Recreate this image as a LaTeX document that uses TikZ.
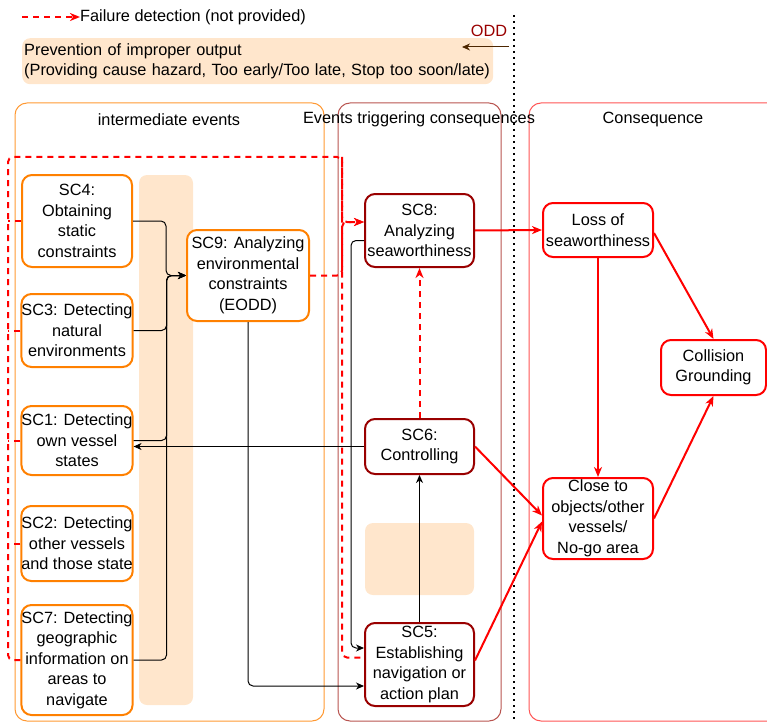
\documentclass[tikz,border=0pt]{standalone}
\usepackage{fontspec}
\setmainfont{Liberation Sans}
\usetikzlibrary{arrows.meta, calc}
\definecolor{scorange}{HTML}{FF8000}
\definecolor{scdark}{HTML}{990000}
\definecolor{peach}{HTML}{FFE6CC}
\definecolor{laneone}{HTML}{FF9933}
\definecolor{lanetwo}{HTML}{B85450}
\definecolor{lanethree}{HTML}{FF5555}
\definecolor{oddarrow}{HTML}{4D2600}
\tikzset{>={Stealth[length=8pt,width=7pt,inset=2.5pt]}}
\tikzset{
	lane/.style={rounded corners=12, line width=1},
	sc/.style={rounded corners=10, line width=2, fill=white, align=center, inner sep=0},
	orng/.style={sc, draw=scorange, minimum width=110},
	trig/.style={sc, draw=scdark, minimum width=109},
	cons/.style={sc, draw=red, minimum width=110},
	blk/.style={->, line width=1, rounded corners=5},
	hit/.style={-{Stealth[length=10pt,width=8pt,inset=3pt]}, red, line width=2},
	fail/.style={-{Stealth[length=10pt,width=8pt,inset=3pt]}, red, line width=2, dash pattern=on 6pt off 5pt, rounded corners=5}
}

\begin{document}
\begin{tikzpicture}[x=1pt, y=-1pt, font=\fontsize{16.3}{20.5}\selectfont]
	\useasboundingbox (0,0) rectangle (767,722);
	% lanes
	\draw[lane, draw=laneone] (15,103) rectangle (324,721);
	\draw[lane, draw=lanetwo] (338,103) rectangle (501,721);
	\draw[lane, draw=lanethree] (529,103) rectangle (795,721);
	\node (tinter) at (169,119.5) {intermediate events};
	\node (ttrig) at (419,119.5) {Events triggering consequences};
	\node (tcons) at (653,119.5) {Consequence};
	\fill[peach, rounded corners=8] (139,175) rectangle (193,705);
	\fill[peach, rounded corners=8] (365,523) rectangle (474,595);

	% legend
	\node[anchor=west, inner sep=0] (legtxt) at (80,17) {Failure detection (not provided)};
	\coordinate (legtail) at (22,17);
	\draw[fail, rounded corners=0] (legtail) -- (legtxt.west);
	\node[fill=peach, rounded corners=8, anchor=north west, minimum width=471, minimum height=46, text width=467, align=left, inner xsep=2, inner ysep=0] (prev) at (22,38) {Prevention of improper output\\(Providing cause hazard, Too early/Too late, Stop too soon/late)};
	\node[text=scdark, inner sep=0] (odd) at (489,31) {ODD};
	\coordinate (oddsrc) at (509,47);
	\coordinate (oddtip) at (462,47);
	\draw[->, draw=oddarrow, line width=1] (oddsrc) -- (oddtip);
	\coordinate (sepT) at (514,15);
	\coordinate (sepB) at (514,722);
	\draw[line width=1.6, dash pattern=on 1.6pt off 4.4pt] (sepT) -- (sepB);

	% nodes
	\node[orng, minimum height=92] (sc4) at (77,221) {SC4:\\Obtaining\\static\\constraints};
	\node[orng, minimum height=73] (sc3) at (77,330.5) {SC3: Detecting\\natural\\environments};
	\node[orng, minimum height=69] (sc1) at (77,440.5) {SC1: Detecting\\own vessel\\states};
	\node[orng, minimum height=75] (sc2) at (77,543.5) {SC2: Detecting\\other vessels\\and those state};
	\node[orng, minimum height=110] (sc7) at (77,660) {SC7: Detecting\\geographic\\information on\\areas to\\navigate};
	\node[orng, minimum width=122, minimum height=91] (sc9) at (248,275.5) {SC9: Analyzing\\environmental\\constraints\\(EODD)};
	\node[trig, minimum height=73] (sc8) at (419.5,230.5) {SC8:\\Analyzing\\seaworthiness};
	\node[trig, minimum height=55] (sc6) at (419.5,446.5) {SC6:\\Controlling};
	\node[trig, minimum height=83] (sc5) at (419.5,664.5) {SC5:\\Establishing\\navigation or\\action plan};
	\node[cons, minimum height=54] (loss) at (598,230) {Loss of\\seaworthiness};
	\node[cons, minimum width=105, minimum height=55] (coll) at (713.5,367.5) {Collision\\Grounding};
	\node[cons, minimum height=81] (close) at (598,518.5) {Close to\\objects/other\\vessels/\\No-go area};

	% black flows
	\foreach \s in {sc4,sc3,sc1,sc7}
		\draw[blk] (\s.east) -- ++(33,0) |- (sc9.west);
	\draw[blk] (sc6.west) -- (sc1.east |- sc6.west);
	\draw[blk] (sc9.south) |- ($(sc5.west)+(0,21.5)$);
	\draw[blk] ($(sc8.west)+(0,10)$) -- ++(-13,0) |- ($(sc5.west)+(0,-16.5)$);
	\draw[blk] (sc5.north) -- (sc6.south);

	% consequences
	\draw[hit] (sc8.east) -- (loss.west);
	\draw[hit] (sc6.east) -- ($(close.west)+(0,-3)$);
	\draw[hit] ($(sc5.east)+(0,-4)$) -- ($(close.west)+(0,3)$);
	\draw[hit] (loss.south) -- (close.north);
	\draw[hit] ($(loss.east)+(0,3)$) -- (coll.north);
	\draw[hit] (close.east) -- (coll.south);

	% failure detection
	\coordinate (lp) at (8,157);
	\coordinate (rp) at (342,157);
	\draw[fail, -] (sc7.west) -| (lp) -- (rp) |- ($(sc5.west)+(0,-7)$);
	\foreach \s in {sc4,sc3,sc1,sc2}
		\draw[fail, -] (\s.west) -- (lp |- \s.west);
	\draw[fail] (rp) |- ($(sc8.west)+(0,-8.5)$);
	\draw[fail] (sc9.east) -- (rp |- sc9.east) |- ($(sc8.west)+(0,-8.5)$);
	\draw[fail] (sc6.north) -- (sc8.south);
\end{tikzpicture}
\end{document}
